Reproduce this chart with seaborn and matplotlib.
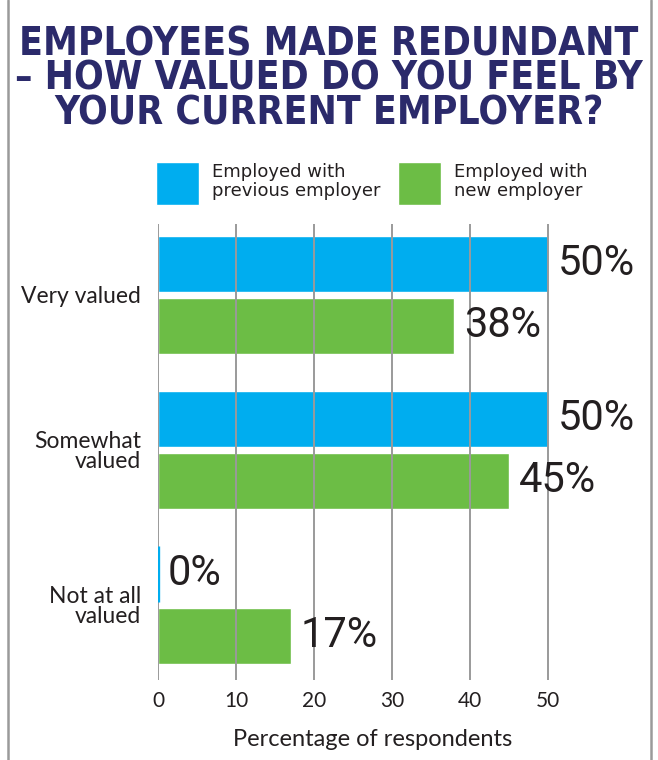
import matplotlib
matplotlib.use("Agg")
import matplotlib.pyplot as plt
from matplotlib.lines import Line2D
from matplotlib.patches import Patch
import pandas as pd
import seaborn as sns

# Survey responses
categories = ["Very valued", "Somewhat\nvalued", "Not at all\nvalued"]
series_names = ["Employed with\nprevious employer", "Employed with\nnew employer"]
previous_employer = [50, 50, 0]
new_employer = [38, 45, 17]
x_ticks = [0, 10, 20, 30, 40, 50]

title = "EMPLOYEES MADE REDUNDANT\n– HOW VALUED DO YOU FEEL BY\nYOUR CURRENT EMPLOYER?"
x_label = "Percentage of respondents"

BLUE = "#00adef"
GREEN = "#6cbd45"
NAVY = "#2b2a6b"
TEXT = "#231f20"
GRID = "#9a9a9a"

df = pd.DataFrame({
    "category": categories * 2,
    "series": [series_names[0]] * 3 + [series_names[1]] * 3,
    "value": previous_employer + new_employer,
})

sns.set_theme(style="white")
plt.rcParams["font.family"] = ["Lato", "DejaVu Sans"]

fig = plt.figure(figsize=(6.58, 7.60), dpi=100)
ax = fig.add_axes([158 / 658, 1 - 680 / 760, 493 / 658, 456 / 760])

sns.barplot(
    data=df, x="value", y="category", hue="series", orient="h",
    palette=[BLUE, GREEN], width=0.8, gap=0.1, ax=ax,
    saturation=1, legend=False,
)

# a zero-length bar still shows as a thin blue sliver
for bar in ax.containers[0]:
    if bar.get_width() == 0:
        bar.set_edgecolor(BLUE)
        bar.set_linewidth(2.4)
        bar.set_zorder(3)

for cont in ax.containers:
    ax.bar_label(cont, labels=[f"{v:.0f}%" for v in cont.datavalues],
                 padding=7, fontsize=30, color=TEXT,
                 family=["Roboto", "DejaVu Sans"])

ax.set_xlim(0, 63.2)
ax.set_ylim(2.484, -0.458)
ax.set_xticks(x_ticks)
ax.set_xticklabels([str(t) for t in x_ticks])
ax.grid(axis="x", color=GRID, linewidth=1.4)
ax.set_axisbelow(False)
for s in ax.spines.values():
    s.set_visible(False)
ax.tick_params(axis="x", length=0, pad=8, labelsize=15, labelcolor=TEXT)
ax.tick_params(axis="y", length=0, pad=12, labelsize=16.5, labelcolor=TEXT)
for lbl in ax.get_yticklabels():
    lbl.set_linespacing(0.95)
ax.set_ylabel("")
ax.set_xlabel(x_label, fontsize=17, color=TEXT)
ax.xaxis.set_label_coords((373 - 158) / 493, -49 / 456)

# legend with large square swatches
handles = [Patch(facecolor=BLUE), Patch(facecolor=GREEN)]
leg = fig.legend(
    handles, series_names, loc="upper left",
    bbox_to_anchor=(149 / 658, 1 - 155 / 760), ncol=2, frameon=False,
    handlelength=2.35, handleheight=3.25, handletextpad=0.72,
    columnspacing=1.0, borderaxespad=0,
    prop={"family": ["DejaVu Sans"], "size": 13},
)
for t in leg.get_texts():
    t.set_color(TEXT)
    t.set_linespacing(1.1)

fig.text(0.5, 1 - 79 / 760, title, ha="center", va="center",
         fontsize=28, fontweight="bold", fontstretch="condensed",
         color=NAVY, linespacing=0.88,
         family=["DejaVu Sans"])

# side rules of the panel
for xp in (8 / 658, 651 / 658):
    fig.add_artist(Line2D([xp, xp], [0, 1], transform=fig.transFigure,
                          color=GRID, linewidth=1.8))

fig.savefig("out.png", dpi=100)
